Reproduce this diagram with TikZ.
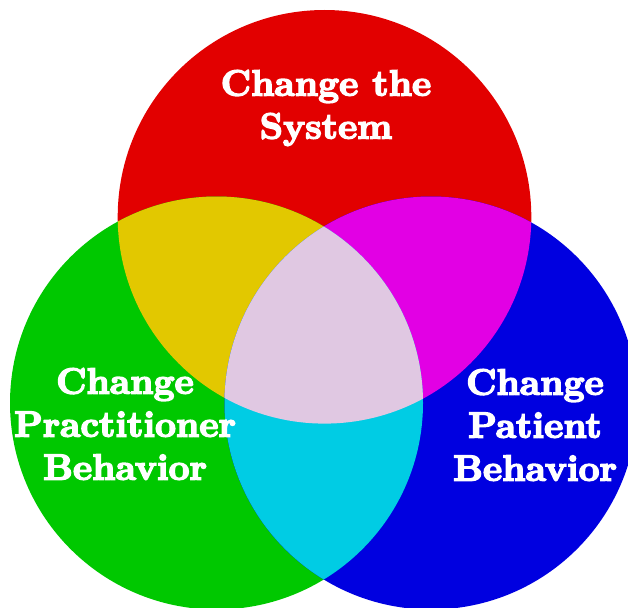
\documentclass[tikz,border=0pt]{standalone}
\usepackage{fontspec}
\newfontfamily\fatface{lmroman10-bold.otf}[FakeBold=4]
\definecolor{sysred}{RGB}{226,0,0}
\definecolor{pracgreen}{RGB}{0,200,0}
\definecolor{patblue}{RGB}{0,0,224}
\definecolor{mixyellow}{RGB}{226,200,0}
\definecolor{mixmagenta}{RGB}{226,0,228}
\definecolor{mixcyan}{RGB}{0,204,228}
\definecolor{mixall}{RGB}{224,200,226}
\begin{document}
\begin{tikzpicture}[x=1pt,y=-1pt,
    aim/.style={text=white,align=center,inner sep=0pt,
      font=\fatface\fontsize{36.5}{43}\selectfont}]
  \useasboundingbox (0,0) rectangle (628,607);
  \coordinate (sys) at (324.5,216.8);
  \coordinate (prac) at (216.5,403);
  \coordinate (pat) at (431,403);
  \fill[sysred] (sys) circle[radius=206.8pt];
  \fill[pracgreen] (prac) circle[radius=206.5pt];
  \fill[patblue] (pat) circle[radius=206.5pt];
  % two-way overlaps
  \begin{scope}
    \clip (sys) circle[radius=206.8pt];
    \fill[mixyellow] (prac) circle[radius=206.5pt];
    \fill[mixmagenta] (pat) circle[radius=206.5pt];
  \end{scope}
  \begin{scope}
    \clip (prac) circle[radius=206.5pt];
    \fill[mixcyan] (pat) circle[radius=206.5pt];
    % all three
    \clip (pat) circle[radius=206.5pt];
    \fill[mixall] (sys) circle[radius=206.8pt];
  \end{scope}
  \node[aim] (system) at (326,108) {Change the\\System};
  \node[aim] (practitioner) at (125,424) {Change\\Practitioner\\Behavior};
  \node[aim] (patient) at (535,425) {Change\\Patient\\Behavior};
\end{tikzpicture}
\end{document}
